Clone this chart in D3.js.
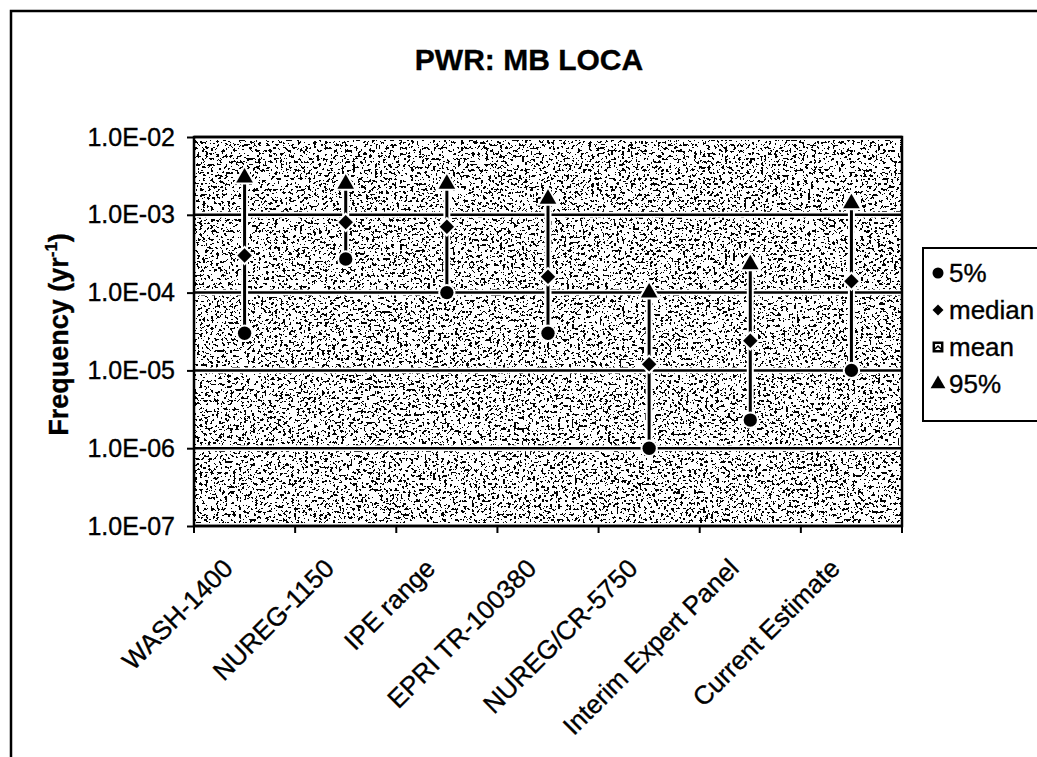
<!DOCTYPE html>
<html>
<head>
<meta charset="utf-8">
<script src="https://cdn.jsdelivr.net/npm/d3@7"></script>
<style>
  html, body { margin: 0; padding: 0; background: #fff; }
  svg { display: block; font-family: "Liberation Sans", Arial, sans-serif; }
  svg text { stroke: #000; stroke-width: 0.35px; }
</style>
</head>
<body>
<svg id="chart" width="1037" height="757"></svg>
<script>
// Initiating-event frequency estimates, PWR medium-break LOCA
const categories = ["WASH-1400", "NUREG-1150", "IPE range", "EPRI TR-100380",
                    "NUREG/CR-5750", "Interim Expert Panel", "Current Estimate"];
const p05    = [3.0e-5, 2.7e-4, 1.0e-4, 3.0e-5, 1.0e-6, 2.3e-6, 1.0e-5];
const median = [3.0e-4, 8.0e-4, 7.0e-4, 1.6e-4, 1.2e-5, 2.4e-5, 1.4e-4];
const mean   = [null, null, null, null, null, null, null];
const p95    = [3.0e-3, 2.5e-3, 2.5e-3, 1.6e-3, 1.0e-4, 2.3e-4, 1.4e-3];
const yTicks = [1e-7, 1e-6, 1e-5, 1e-4, 1e-3, 1e-2];
const yTickLabels = ["1.0E-07", "1.0E-06", "1.0E-05", "1.0E-04", "1.0E-03", "1.0E-02"];
const legendItems = [
  { key: "p05", label: "5%" },
  { key: "median", label: "median" },
  { key: "mean", label: "mean" },
  { key: "p95", label: "95%" }
];

const svg = d3.select("#chart");
const plot = { left: 194, right: 902, top: 137, bottom: 526 };

const x = d3.scaleBand().domain(categories).range([plot.left, plot.right]).paddingInner(0).paddingOuter(0);
const y = d3.scaleLog().domain([1e-7, 1e-2]).range([plot.bottom, plot.top]);
const cx = c => x(c) + x.bandwidth() / 2;

// speckled plot-area fill
const defs = svg.append("defs");
const f = defs.append("filter").attr("id", "speckle")
  .attr("x", 0).attr("y", 0).attr("width", 1).attr("height", 1)
  .attr("color-interpolation-filters", "sRGB");
f.append("feTurbulence").attr("type", "fractalNoise").attr("baseFrequency", 0.36)
  .attr("numOctaves", 2).attr("seed", 11).attr("result", "noise");
f.append("feColorMatrix").attr("in", "noise").attr("type", "matrix")
  .attr("values", "0 0 0 0 0  0 0 0 0 0  0 0 0 0 0  1 0 0 0 0").attr("result", "a");
const steps = d3.range(50).map(i => (i / 50 >= 0.6 ? 1 : 0)).join(" ");
f.append("feComponentTransfer").attr("in", "a").attr("result", "dots")
  .append("feFuncA").attr("type", "discrete").attr("tableValues", steps);
const m = f.append("feMerge");
m.append("feMergeNode").attr("in", "SourceGraphic");
m.append("feMergeNode").attr("in", "dots");

// outer frame
svg.append("path").attr("d", "M11,757 L11,11 L1037,11")
  .attr("fill", "none").attr("stroke", "#000").attr("stroke-width", 2.5);

// title
svg.append("text").attr("x", 529).attr("y", 70).attr("text-anchor", "middle")
  .attr("font-size", 30).attr("font-weight", "bold").text("PWR:  MB LOCA");

// plot background
svg.append("rect").attr("x", plot.left).attr("y", plot.top)
  .attr("width", plot.right - plot.left).attr("height", plot.bottom - plot.top)
  .attr("fill", "#fff").attr("filter", "url(#speckle)");

// gridlines with a white clearance band
const grid = svg.append("g");
yTicks.forEach(t => {
  grid.append("line").attr("x1", plot.left).attr("x2", plot.right)
    .attr("y1", y(t)).attr("y2", y(t)).attr("stroke", "#fff").attr("stroke-width", 6);
});
yTicks.forEach(t => {
  grid.append("line").attr("x1", plot.left).attr("x2", plot.right)
    .attr("y1", y(t)).attr("y2", y(t)).attr("stroke", "#000").attr("stroke-width", 2.5);
});

// plot border
svg.append("rect").attr("x", plot.left).attr("y", plot.top)
  .attr("width", plot.right - plot.left).attr("height", plot.bottom - plot.top)
  .attr("fill", "none").attr("stroke", "#000").attr("stroke-width", 2.5);

// y axis
const yAxis = d3.axisLeft(y).tickValues(yTicks)
  .tickFormat((d, i) => yTickLabels[i]).tickSize(7).tickPadding(12);
const gy = svg.append("g").attr("transform", `translate(${plot.left},0)`).call(yAxis);
gy.select(".domain").remove();
gy.selectAll("line").attr("stroke", "#000").attr("stroke-width", 2);
gy.selectAll("text").attr("font-size", 25).attr("fill", "#000")
  .attr("font-family", "Liberation Sans, Arial, sans-serif");

// x axis: ticks on category boundaries, labels slanted
const bounds = categories.map(c => x(c)).concat([plot.right]);
svg.append("g").selectAll("line").data(bounds).join("line")
  .attr("x1", d => d).attr("x2", d => d)
  .attr("y1", plot.bottom).attr("y2", plot.bottom + 7)
  .attr("stroke", "#000").attr("stroke-width", 2);
const xAxis = d3.axisBottom(x).tickSize(0).tickPadding(0);
const gx = svg.append("g").attr("transform", `translate(0,${plot.bottom})`).call(xAxis);
gx.select(".domain").remove();
gx.selectAll("text")
  .attr("font-size", 26).attr("fill", "#000").attr("font-family", "Liberation Sans, Arial, sans-serif")
  .attr("text-anchor", "end").attr("dy", 0)
  .attr("transform", "translate(-10,44) rotate(-45)");

// y axis title
const yt = svg.append("text").attr("transform", `translate(68,${(plot.top + plot.bottom) / 2 + 3}) rotate(-90)`)
  .attr("text-anchor", "middle").attr("font-size", 27).attr("font-weight", "bold");
yt.append("tspan").text("Frequency  (yr");
yt.append("tspan").attr("font-size", 17).attr("dy", -11).text("-1");
yt.append("tspan").attr("dy", 11).text(")");

// range lines from 5% to 95%
const marks = svg.append("g");
categories.forEach((c, i) => {
  marks.append("line").attr("x1", cx(c)).attr("x2", cx(c))
    .attr("y1", y(p05[i])).attr("y2", y(p95[i]))
    .attr("stroke", "#fff").attr("stroke-width", 7);
});
categories.forEach((c, i) => {
  marks.append("line").attr("x1", cx(c)).attr("x2", cx(c))
    .attr("y1", y(p05[i])).attr("y2", y(p95[i]))
    .attr("stroke", "#000").attr("stroke-width", 3);
});

const symbols = {
  p05: { gen: d3.symbol().type(d3.symbolCircle).size(140), rot: 0 },
  median: { gen: d3.symbol().type(d3.symbolSquare).size(105), rot: 45 },
  mean: { gen: d3.symbol().type(d3.symbolSquare).size(80), rot: 0 },
  p95: { gen: d3.symbol().type(d3.symbolTriangle).size(120), rot: 0 }
};
const seriesData = { p05, median, mean, p95 };
Object.keys(seriesData).forEach(k => {
  const pts = categories.map((c, i) => ({ c, v: seriesData[k][i] })).filter(d => d.v != null);
  const g = marks.append("g");
  // white halo, then the solid marker
  g.selectAll("path.halo").data(pts).join("path").attr("class", "halo")
    .attr("d", symbols[k].gen())
    .attr("transform", d => `translate(${cx(d.c)},${y(d.v)}) rotate(${symbols[k].rot})`)
    .attr("fill", "#fff").attr("stroke", "#fff").attr("stroke-width", 4);
  g.selectAll("path.mark").data(pts).join("path").attr("class", "mark")
    .attr("d", symbols[k].gen())
    .attr("transform", d => `translate(${cx(d.c)},${y(d.v)}) rotate(${symbols[k].rot})`)
    .attr("fill", "#000");
});

// legend
const lg = svg.append("g");
lg.append("rect").attr("x", 923).attr("y", 248).attr("width", 130).attr("height", 173)
  .attr("fill", "#fff").attr("stroke", "#000").attr("stroke-width", 2);
const legendSym = {
  p05: { gen: d3.symbol().type(d3.symbolCircle).size(95), rot: 0 },
  median: { gen: d3.symbol().type(d3.symbolSquare).size(60), rot: 45 },
  mean: { gen: d3.symbol().type(d3.symbolSquare).size(70), rot: 0 },
  p95: { gen: d3.symbol().type(d3.symbolTriangle).size(95), rot: 0 }
};
legendItems.forEach((it, i) => {
  const yy = 273 + i * 37;
  const sym = lg.append("path").attr("d", legendSym[it.key].gen())
    .attr("transform", `translate(938,${yy}) rotate(${legendSym[it.key].rot})`);
  if (it.key === "mean") {
    sym.attr("fill", "#fff").attr("stroke", "#000").attr("stroke-width", 2.5);
    lg.append("path").attr("d", `M934,${yy + 3} L938,${yy - 1} L942,${yy + 3}`)
      .attr("fill", "none").attr("stroke", "#000").attr("stroke-width", 1.5);
  } else {
    sym.attr("fill", "#000");
  }
  lg.append("text").attr("x", 949).attr("y", yy + 9).attr("font-size", 26).text(it.label);
});
</script>
</body>
</html>
